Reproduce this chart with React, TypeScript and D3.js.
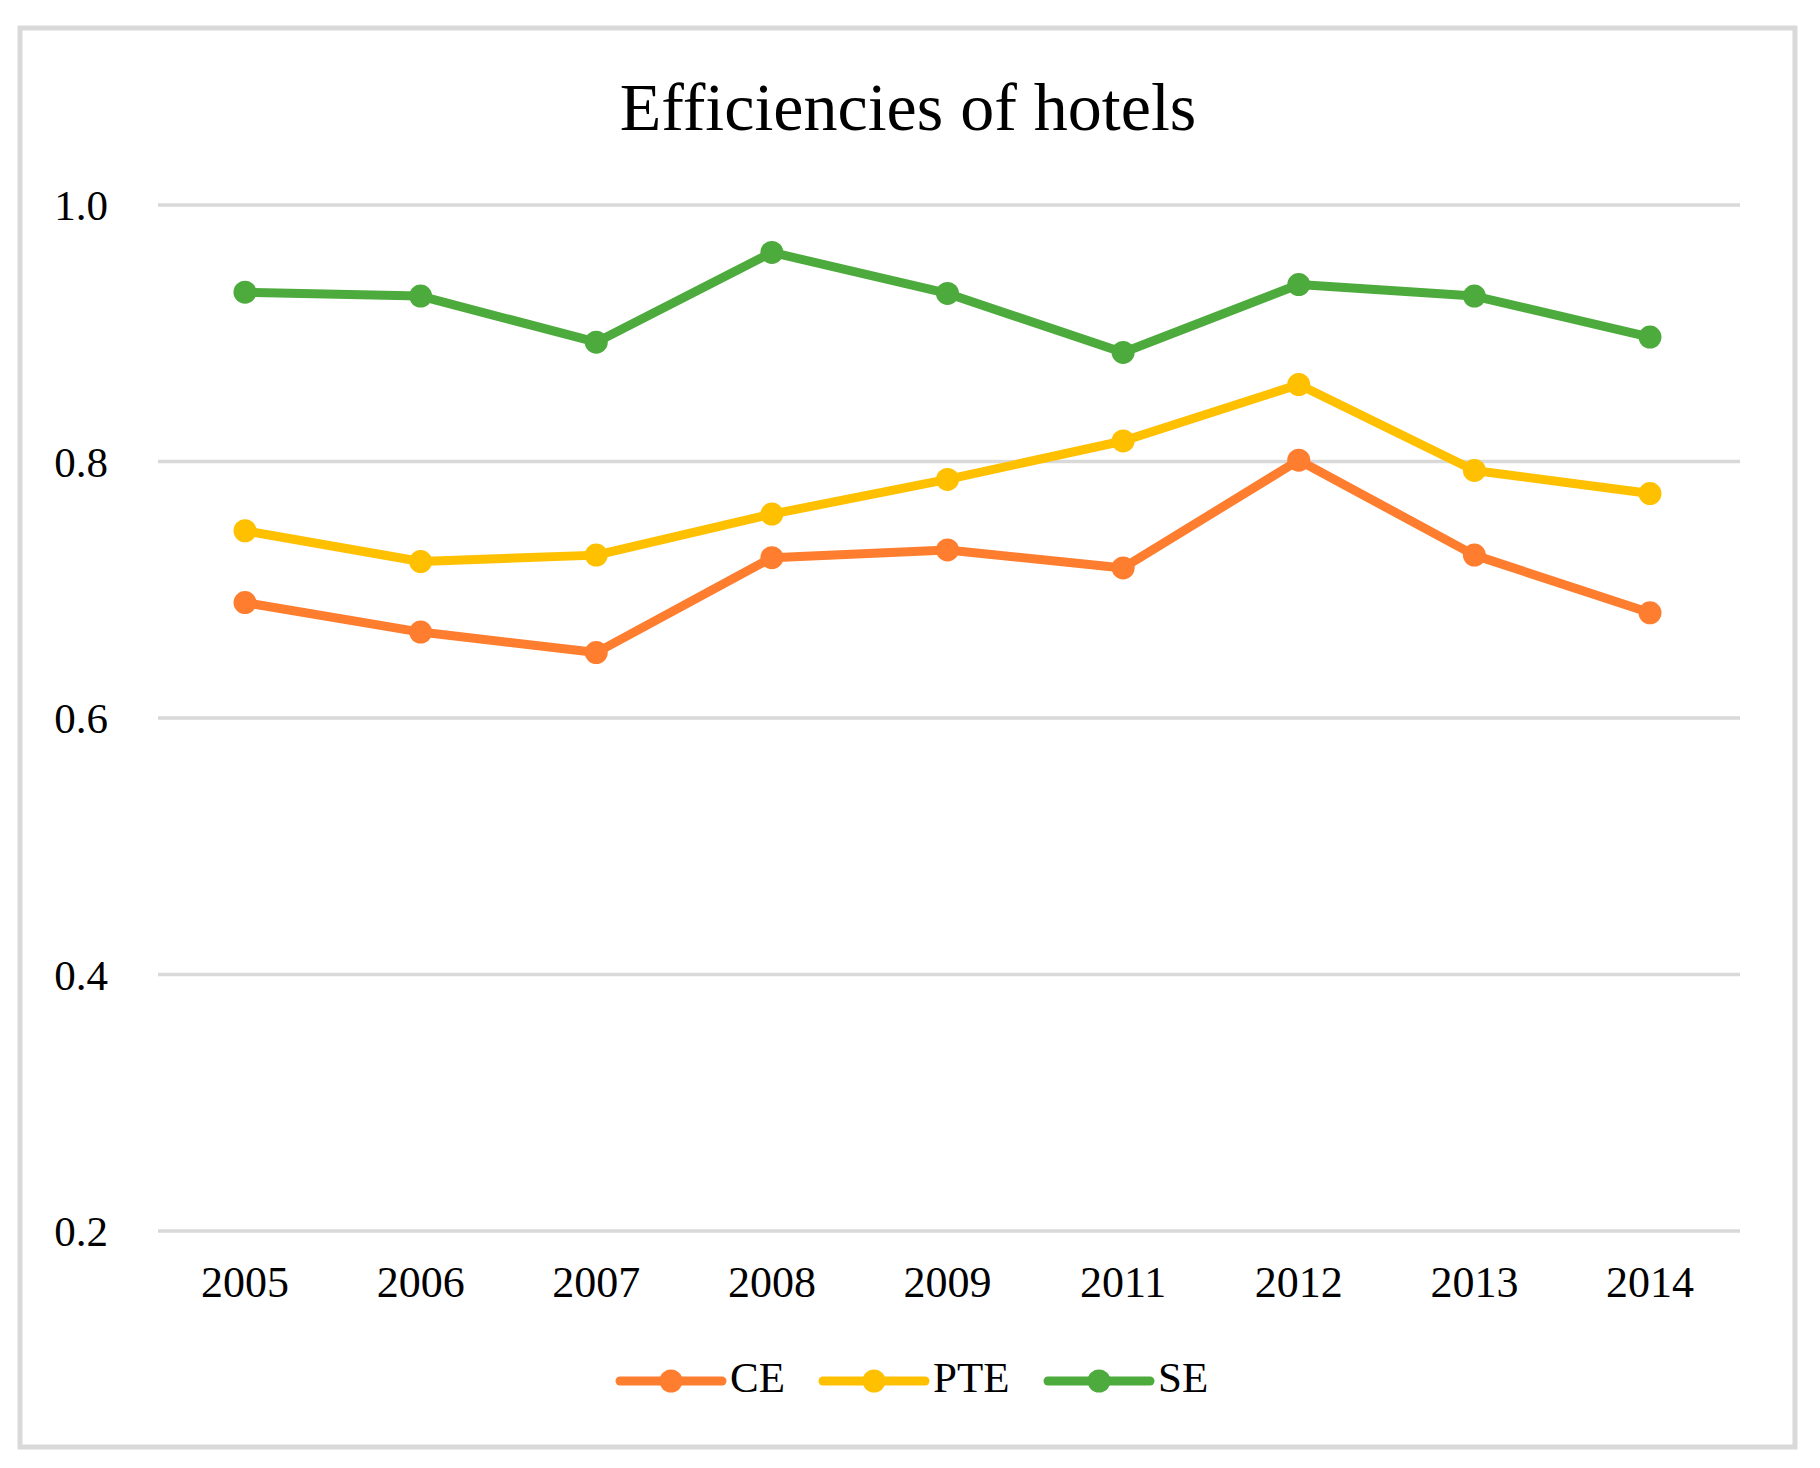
import React from "react";
import * as d3 from "d3";

const years = ["2005", "2006", "2007", "2008", "2009", "2011", "2012", "2013", "2014"];
const ceValues = [0.690, 0.667, 0.651, 0.725, 0.731, 0.717, 0.801, 0.727, 0.682];
const pteValues = [0.746, 0.722, 0.727, 0.759, 0.786, 0.816, 0.860, 0.793, 0.775];
const seValues = [0.932, 0.929, 0.893, 0.963, 0.931, 0.885, 0.938, 0.929, 0.897];
const yTicks = [0.2, 0.4, 0.6, 0.8, 1.0];
const seriesNames = ["CE", "PTE", "SE"];
const seriesColors = ["#FE7D2E", "#FFC000", "#4DAA3C"];

const W = 1820;
const H = 1468;
const FONT = "'Liberation Serif', 'Times New Roman', serif";

export default function App() {
  const x = d3.scalePoint<string>().domain(years).range([245, 1650]).padding(0);
  const y = d3.scaleLinear().domain([0.2, 1.0]).range([1231, 205]);
  const line = d3
    .line<number>()
    .x((_, i) => x(years[i]) as number)
    .y((d) => y(d));
  const series = [ceValues, pteValues, seValues];
  const legendX = [620, 823, 1048];
  const legendLine = 102;
  const legendY = 1381;

  return (
    <svg
      width={W}
      height={H}
      style={{ position: "absolute", left: 0, top: 0, background: "#fff" }}
      fontFamily={FONT}
    >
      <rect x={0} y={0} width={W} height={H} fill="#fff" />
      <rect x={20} y={28} width={1775} height={1419} fill="#fff" stroke="#d9d9d9" strokeWidth={5} />
      <text x={908} y={130} textAnchor="middle" fontSize={68} fill="#000">
        Efficiencies of hotels
      </text>
      {yTicks.map((t) => (
        <g key={t}>
          <line x1={158} x2={1740} y1={y(t)} y2={y(t)} stroke="#d9d9d9" strokeWidth={3.5} />
          <text x={108} y={y(t)} dy="0.36em" textAnchor="end" fontSize={43} fill="#000">
            {t.toFixed(1)}
          </text>
        </g>
      ))}
      {years.map((yr) => (
        <text key={yr} x={x(yr)} y={1297} textAnchor="middle" fontSize={44} fill="#000">
          {yr}
        </text>
      ))}
      {series.map((vals, si) => (
        <g key={seriesNames[si]}>
          <path d={line(vals) || ""} fill="none" stroke={seriesColors[si]} strokeWidth={9} strokeLinejoin="round" strokeLinecap="round" />
          {vals.map((v, i) => (
            <circle key={i} cx={x(years[i])} cy={y(v)} r={11.5} fill={seriesColors[si]} />
          ))}
        </g>
      ))}
      {seriesNames.map((n, si) => (
        <g key={n}>
          <line
            x1={legendX[si]}
            x2={legendX[si] + legendLine}
            y1={legendY}
            y2={legendY}
            stroke={seriesColors[si]}
            strokeWidth={9}
            strokeLinecap="round"
          />
          <circle cx={legendX[si] + legendLine / 2} cy={legendY} r={11.5} fill={seriesColors[si]} />
          <text x={legendX[si] + legendLine + 8} y={1392} fontSize={43} fill="#000">
            {n}
          </text>
        </g>
      ))}
    </svg>
  );
}
